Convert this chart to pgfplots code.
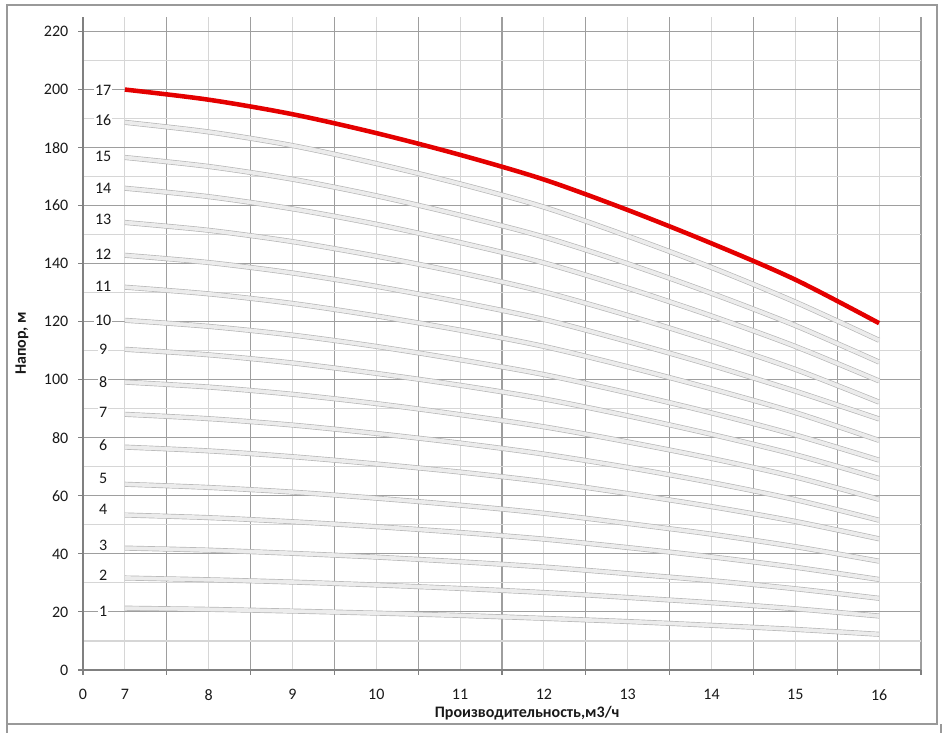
\documentclass[border=0pt]{standalone}
\usepackage{fontspec}
\setmainfont{Carlito}
\usepackage{pgfplots}
\usepackage{pgfplotstable}
\pgfplotsset{compat=1.18}

\definecolor{gridmaj}{RGB}{158,158,158}
\definecolor{gridmin}{RGB}{214,214,214}
\definecolor{curveedge}{RGB}{182,182,182}
\definecolor{curvefill}{RGB}{236,236,236}
\definecolor{topred}{RGB}{228,0,0}

\tikzset{lbl/.style={font=\fontsize{12}{14}\selectfont, black!90, fill=white, inner sep=0.6pt}}

% head (m) at flow 7..16 m3/h, curves 1..17
\pgfplotstableread{
x  c1   c2   c3   c4   c5   c6   c7   c8   c9    c10   c11   c12   c13   c14   c15   c16   c17
7  21.3 31.7 42.0 53.4 64.0 76.8 88.1 99.2 110.5 120.5 131.9 142.9 154.2 166.0 176.6 188.7 200.0
8  20.9 31.1 41.3 52.5 62.9 75.5 86.6 97.5 108.6 118.4 129.6 140.4 151.5 163.1 173.5 185.4 196.5
9  20.3 30.3 40.2 51.1 61.3 73.5 84.4 95.0 105.8 115.4 126.3 136.8 147.6 158.9 169.1 180.7 191.5
10 19.6 29.3 38.9 49.4 59.2 71.0 81.5 91.8 102.2 111.5 122.0 132.2 142.6 153.6 163.4 174.5 185.0
11 18.8 28.1 37.3 47.4 56.8 68.2 78.2 88.0 98.1  106.9 117.1 126.8 136.9 147.3 156.7 167.5 177.5
12 17.8 26.7 35.5 45.1 54.0 64.9 74.4 83.8 93.4  101.8 111.5 120.8 130.3 140.3 149.2 159.5 169.0
13 16.7 25.0 33.2 42.2 50.5 60.8 69.8 78.6 87.6  95.5  104.5 113.2 122.2 131.6 140.0 149.5 158.5
14 15.4 23.2 30.8 39.0 46.8 56.3 64.6 72.9 81.2  88.6  96.9  105.0 113.3 122.0 129.8 138.7 147.0
15 14.0 21.1 28.0 35.4 42.5 51.2 58.7 66.5 74.2  81.0  88.7  96.1  103.6 111.5 118.7 126.8 134.5
16 12.3 18.6 24.7 31.2 37.5 45.2 51.6 58.8 66.0  72.3  79.1  86.5  92.3  99.6  106.1 113.6 119.5
}\curves

\begin{document}
\begin{tikzpicture}
\begin{scope}[x=0.75pt,y=0.75pt]
  \path[use as bounding box] (0,0) rectangle (945,733);
  \draw[black!40,line width=1.2pt] (7,728) rectangle (937,9);
  \draw[black!40,line width=1.2pt] (7,9) -- (7,0);
  \draw[black!40,line width=1.2pt] (941,9) -- (941,0);
\end{scope}

\begin{axis}[
  at={(62.25pt,47.25pt)}, anchor=south west,
  scale only axis,
  width=628.5pt, height=489.75pt,
  xmin=6.5, xmax=16.5, ymin=0, ymax=225,
  axis lines=left,
  axis line style={-, black!50, line width=1pt},
  xtick={6.5,7.5,...,16.5}, xticklabels={},
  minor xtick={7,...,16},
  extra x ticks={6.5,7,8,9,10,11,12,13,14,15,16},
  extra x tick labels={0,7,8,9,10,11,12,13,14,15,16},
  extra x tick style={grid=none, major tick length=0pt,
    xticklabel style={yshift=-11pt}},
  ytick={0,20,...,220},
  minor ytick={10,30,...,210},
  grid=both,
  major grid style={gridmaj, line width=0.8pt},
  minor grid style={gridmin, line width=0.8pt},
  tick align=outside,
  major tick length=3.5pt,
  minor tick length=0pt,
  tick style={black!50, line width=0.8pt},
  tick label style={font=\fontsize{12}{14}\selectfont, black!90},
  /pgf/number format/assume math mode=true,
  yticklabel style={xshift=-4pt},
  xlabel={\bfseries Производительность,м3/ч},
  ylabel={\bfseries Напор, м},
  label style={font=\fontsize{12}{14}\selectfont, black!90},
  xlabel style={at={(axis description cs:0.53,-0.066)}, anchor=center},
  ylabel style={at={(axis description cs:-0.0728,0.5)}, anchor=center},
  clip=false,
]
\pgfplotsinvokeforeach{1,...,16}{
  \addplot[smooth, curveedge, line width=3.8pt] table[x=x, y=c#1] {\curves};
  \addplot[smooth, curvefill, line width=2.8pt] table[x=x, y=c#1] {\curves};
}
\addplot[smooth, topred, line width=3.4pt] table[x=x, y=c17] {\curves};

\foreach \n/\v in {17/199.7,16/189.4,15/177.0,14/166.0,13/155.3,12/143.2,
  11/132.2,10/120.5,9/110.5,8/99.2,7/88.8,6/77.5,5/66.1,4/55.4,3/43.0,2/32.7,1/20.3}{
  \edef\tmp{\noexpand\node[lbl] at (axis cs:6.74,\v) {\n};}\tmp
}
\end{axis}
\end{tikzpicture}
\end{document}
